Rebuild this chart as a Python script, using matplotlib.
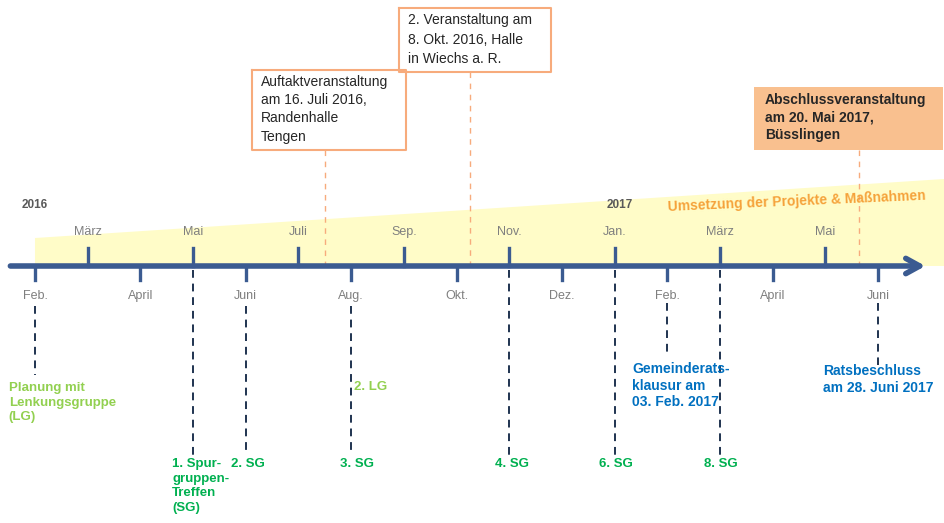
import matplotlib.pyplot as plt

plt.rcParams['font.family'] = ['Liberation Sans', 'DejaVu Sans']

# Monate auf der Zeitachse (Feb. 2016 bis Juni 2017), Index = Monatsposition
months = ['Feb.', 'März', 'April', 'Mai', 'Juni', 'Juli', 'Aug.', 'Sep.', 'Okt.',
          'Nov.', 'Dez.', 'Jan.', 'Feb.', 'März', 'April', 'Mai', 'Juni']
years = ['2016', '2017']
year_pos = [0, 11.1]

# Veranstaltungen (Kästen oben), Position in Monaten ab Feb. 2016
event_texts = ['Auftaktveranstaltung\nam 16. Juli 2016,\nRandenhalle\nTengen',
               '2. Veranstaltung am\n8. Okt. 2016, Halle\nin Wiechs a. R.',
               'Abschlussveranstaltung\nam 20. Mai 2017,\nBüsslingen']
event_pos = [5.5, 8.25, 15.63]

# Spurgruppen-Treffen (SG)
sg_labels = ['1. Spur-\ngruppen-\nTreffen\n(SG)', '2. SG', '3. SG', '4. SG', '6. SG', '8. SG']
sg_pos = [3, 4, 6, 9, 11, 13]

# Lenkungsgruppe + Gemeinderat
lg_labels = ['Planung mit\nLenkungsgruppe\n(LG)', '2. LG']
lg_pos = [0, 6]
gr_labels = ['Gemeinderats-\nklausur am\n03. Feb. 2017', 'Ratsbeschluss\nam 28. Juni 2017']
gr_pos = [12, 16]

axis_blue = '#3b5b91'
navy = '#1f3350'
orange_line = '#f7ab7c'
grey = '#7f7f7f'

fig = plt.figure(figsize=(9.44, 5.23), dpi=100)
ax = fig.add_axes([0, 0, 1, 1])
ax.set_xlim(-0.664, 17.25)
ax.set_ylim(523, 0)
ax.axis('off')

# gelber Keil "Umsetzung"
ax.fill([0, 17.25, 17.25, 0], [238, 179, 266, 266], color='#fffcc8', lw=0, zorder=0)
ax.text(12.0, 201, 'Umsetzung der Projekte & Maßnahmen', color='#f5a23a', fontsize=10,
        fontweight='bold', rotation=2.5, ha='left', va='center')

# Zeitachse mit Pfeil
ax.annotate('', xy=(16.95, 266), xytext=(-0.52, 266),
            arrowprops=dict(arrowstyle='->,head_length=1.0,head_width=0.55',
                            color=axis_blue, lw=4), zorder=3)

for i, m in enumerate(months):
    if i % 2 == 1:
        ax.plot([i, i], [248, 266], color=axis_blue, lw=2.4, zorder=3)
        ax.text(i, 232, m, color=grey, fontsize=9, ha='center', va='center')
    else:
        ax.plot([i, i], [266, 280], color=axis_blue, lw=2.4, zorder=3)
        ax.text(i, 296, m, color=grey, fontsize=9, ha='center', va='center')

for y, p in zip(years, year_pos):
    ax.text(p, 205, y, color='#595959', fontsize=8.5, fontweight='bold', ha='center', va='center')

# Kästen der Veranstaltungen
box_y = [(70, 150), (8, 72), (87, 150)]
box_x = [(-1.39, 1.55), (-1.35, 1.55), (-1.99, 1.6)]
box_ls = [1.38, 1.5, 1.3]
for k, (t, p) in enumerate(zip(event_texts, event_pos)):
    x0, x1 = p + box_x[k][0], p + box_x[k][1]
    y0, y1 = box_y[k]
    if k == 2:
        ax.fill([x0, x1, x1, x0], [y0, y0, y1, y1], color='#f9c08f', lw=0, zorder=2)
        ax.text(x0 + 0.21, y0 + 6, t, fontsize=10, fontweight='bold', color='#262626',
                va='top', ha='left', linespacing=box_ls[k], zorder=3)
    else:
        ax.plot([x0, x1, x1, x0, x0], [y0, y0, y1, y1, y0], color=orange_line, lw=1.5, zorder=2)
        ax.text(x0 + 0.18, y0 + 5, t, fontsize=10, color='#262626',
                va='top', ha='left', linespacing=box_ls[k], zorder=3)
    ax.plot([p, p], [y1, 266], color=orange_line, lw=1, ls=(0, (4, 4)), zorder=1)

# gestrichelte Linien nach unten
for p in sg_pos:
    top = 270 if p % 2 == 1 else 306
    ax.plot([p, p], [top, 455], color=navy, lw=1.4, ls=(0, (4, 3)), zorder=1)
ax.plot([0, 0], [306, 375], color=navy, lw=1.4, ls=(0, (4, 3)))
ax.plot([12, 12], [303, 355], color=navy, lw=1.4, ls=(0, (4, 3)))
ax.plot([16, 16], [303, 365], color=navy, lw=1.4, ls=(0, (4, 3)))

# Beschriftungen unten
sg_dx = [-0.4, -0.28, -0.22, -0.28, -0.3, -0.3]
for t, p, dx in zip(sg_labels, sg_pos, sg_dx):
    ax.text(p + dx, 458, t, color='#00b050', fontsize=9.5, fontweight='bold',
            va='top', ha='left', linespacing=1.3)
ax.text(lg_pos[0] - 0.5, 382, lg_labels[0], color='#92d050', fontsize=9.5, fontweight='bold',
        va='top', ha='left', linespacing=1.3)
ax.text(lg_pos[1] + 0.05, 381, lg_labels[1], color='#92d050', fontsize=9.5, fontweight='bold',
        va='top', ha='left')
ax.text(gr_pos[0] - 0.67, 362, gr_labels[0], color='#0070c0', fontsize=10, fontweight='bold',
        va='top', ha='left', linespacing=1.25)
ax.text(gr_pos[1] - 1.05, 364, gr_labels[1], color='#0070c0', fontsize=10, fontweight='bold',
        va='top', ha='left', linespacing=1.25)

fig.savefig('out.png', dpi=100)
